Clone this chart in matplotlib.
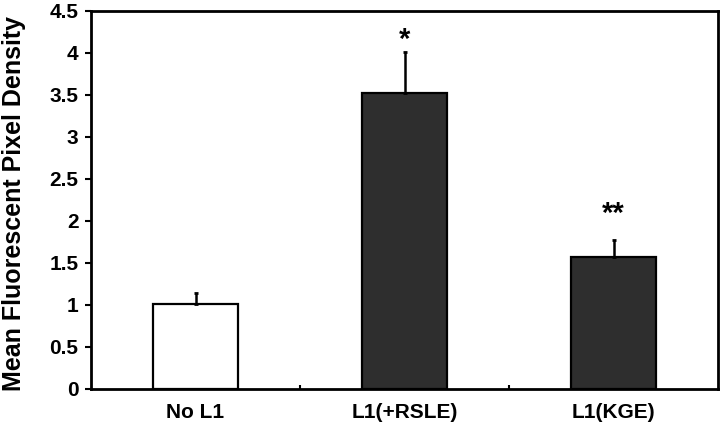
import numpy as np
import matplotlib.pyplot as plt

categories = ["No L1", "L1(+RSLE)", "L1(KGE)"]
means = [1.01, 3.52, 1.57]
errors = [0.13, 0.49, 0.20]
marks = ["", "*", "**"]
mark_y = [0, 4.15, 2.09]
bar_colors = ["white", "#2e2e2e", "#2e2e2e"]

plt.rcParams['font.family'] = ['Liberation Sans', 'DejaVu Sans']
plt.rcParams['font.weight'] = 'bold'

fig = plt.figure(figsize=(7.2, 4.28), dpi=100)
ax = fig.add_axes([91 / 720, 1 - 389 / 428, 627 / 720, 378 / 428])

x = np.arange(len(categories)) + 0.5
ax.bar(x, means, width=0.41, color=bar_colors, edgecolor="black", linewidth=1.6, zorder=2)
ax.errorbar(x, means, yerr=[np.zeros(len(errors)), errors], fmt="none",
            ecolor="black", elinewidth=1.8, capsize=1.5, capthick=2, zorder=3)

for xi, my, s in zip(x, mark_y, marks):
    if s:
        ax.text(xi, my, s, ha="center", va="center", fontsize=21, fontweight="bold")

ax.set_xlim(0, 3)
ax.set_ylim(0, 4.5)
ax.set_yticks(np.arange(0, 4.51, 0.5))
ax.set_yticklabels(["0", "0.5", "1", "1.5", "2", "2.5", "3", "3.5", "4", "4.5"])
ax.set_xticks(x)
ax.set_xticklabels(categories)
ax.set_xticks([1, 2], minor=True)
ax.tick_params(axis="x", which="major", length=0, labelsize=15, pad=10)
ax.tick_params(axis="x", which="minor", direction="in", length=3, width=1.5)
ax.tick_params(axis="y", direction="out", length=4, width=1.5, labelsize=15, pad=5)
for sp in ax.spines.values():
    sp.set_linewidth(2)

ax.set_ylabel("Mean Fluorescent Pixel Density", fontsize=18, fontweight="bold")
ax.yaxis.set_label_coords(-0.104, 0.49)

plt.savefig("out.png", dpi=100)
